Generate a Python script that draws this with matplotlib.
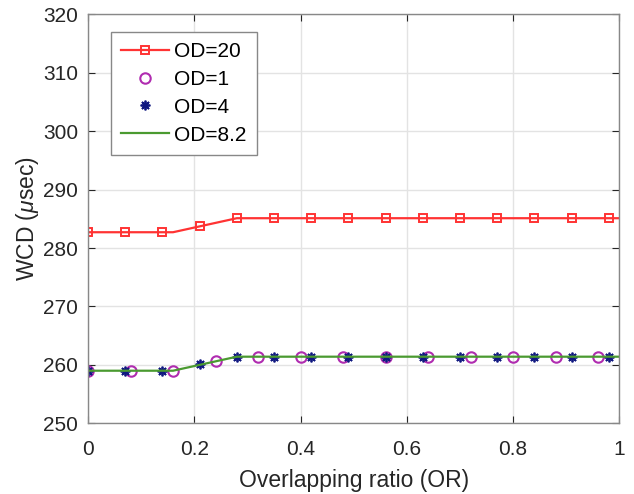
import matplotlib

matplotlib.use("agg")
from matplotlib import pyplot as plt

plt.rcParams["font.family"] = ["Liberation Sans", "DejaVu Sans"]
plt.rcParams["mathtext.fontset"] = "custom"
plt.rcParams["mathtext.it"] = "Liberation Sans:italic"

# OD=20 line (breakpoints) and which of them carry a marker
od20_x = [0, 0.07, 0.14, 0.16, 0.21, 0.28, 0.35, 0.42, 0.49, 0.56, 0.63,
          0.70, 0.77, 0.84, 0.91, 0.98, 1.0]
od20_y = [282.7, 282.7, 282.7, 282.7, 283.7, 285.1, 285.1, 285.1, 285.1,
          285.1, 285.1, 285.1, 285.1, 285.1, 285.1, 285.1, 285.1]
od20_marks = [0, 1, 2, 4, 5, 6, 7, 8, 9, 10, 11, 12, 13, 14, 15]

# OD=1 circles
od1_x = [0, 0.08, 0.16, 0.24, 0.32, 0.40, 0.48, 0.56, 0.64, 0.72, 0.80, 0.88, 0.96]
od1_y = [259.0, 259.0, 259.0, 260.7, 261.4, 261.4, 261.4, 261.4, 261.4,
         261.4, 261.4, 261.4, 261.4]

# OD=4 stars
od4_x = [0, 0.07, 0.14, 0.21, 0.28, 0.35, 0.42, 0.49, 0.56, 0.63, 0.70,
         0.77, 0.84, 0.91, 0.98]
od4_y = [259.0, 259.0, 259.0, 260.1, 261.4, 261.4, 261.4, 261.4, 261.4,
         261.4, 261.4, 261.4, 261.4, 261.4, 261.4]

# OD=8.2 line
od82_x = [0, 0.16, 0.28, 1.0]
od82_y = [259.0, 259.0, 261.4, 261.4]

fig = plt.figure(figsize=(6.34, 4.94), dpi=100)
ax = fig.add_axes([0.1388, 0.1431, 0.8382, 0.8280])

ax.plot(od20_x, od20_y, "-s", color="#ff3333", lw=1.6, ms=6, mfc="none",
        mew=1.4, markevery=od20_marks, label="OD=20")
ax.plot(od1_x, od1_y, "o", color="#b02cb0", ms=7.5, mfc="none", mew=1.5,
        label="OD=1")
ax.plot(od4_x, od4_y, ls="none", marker=(8, 2, 0), color="#101880", ms=7,
        mew=1.3, label="OD=4")
ax.plot(od82_x, od82_y, "-", color="#4a9a30", lw=1.6, label="OD=8.2")

ax.set_xlim(0, 1)
ax.set_ylim(250, 320)
ax.set_xticks([0, 0.2, 0.4, 0.6, 0.8, 1])
ax.set_xticklabels(["0", "0.2", "0.4", "0.6", "0.8", "1"])
ax.set_yticks(range(250, 321, 10))
ax.grid(True, color="#e3e3e3", lw=1.0)
ax.set_axisbelow(True)
ax.tick_params(direction="in", top=True, right=True, labelsize=15,
               colors="#262626", length=5, width=0.8)
ax.tick_params(axis="x", pad=12)
ax.tick_params(axis="y", pad=7)
for s in ax.spines.values():
    s.set_color("#888888")
    s.set_linewidth(1.0)

ax.set_xlabel("Overlapping ratio (OR)", fontsize=16.5, color="#262626",
              labelpad=7)
ax.set_ylabel(r"WCD ($\mu$sec)", fontsize=16.5, color="#262626", labelpad=1.5)

lgnd = ax.legend(loc="upper left", bbox_to_anchor=(0.043, 0.957),
                 borderaxespad=0, fontsize=15, fancybox=False,
                 framealpha=1, edgecolor="#888888", handlelength=2.3,
                 handletextpad=0.25, borderpad=0.5, labelspacing=0.42)
lgnd.get_frame().set_linewidth(1.0)

fig.savefig("out.png", dpi=100)
